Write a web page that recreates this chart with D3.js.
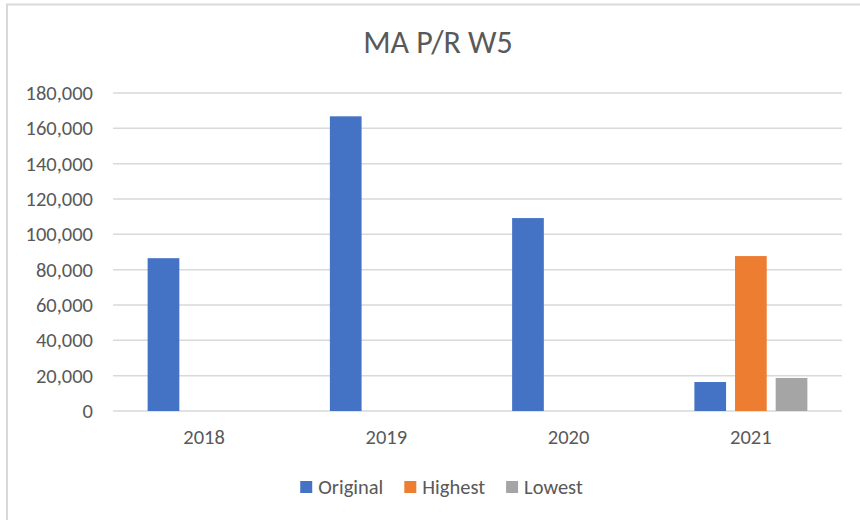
<!DOCTYPE html>
<html>
<head>
<meta charset="utf-8">
<script src="https://cdn.jsdelivr.net/npm/d3@7/dist/d3.min.js"></script>
<style>
  body { margin: 0; background: #fff; }
  svg text { font-family: Calibri, Carlito, "Liberation Sans", Arial, sans-serif; fill: #595959; }
</style>
</head>
<body>
<svg width="860" height="520"></svg>
<script>

var title = "MA P/R W5";
var years = ["2018", "2019", "2020", "2021"];
var seriesNames = ["Original", "Highest", "Lowest"];
var seriesColors = ["#4472c4", "#ed7d31", "#a5a5a5"];
// values per series, one per year (null = no bar)
var original = [86500, 166800, 109200, 16400];
var highest = [null, null, null, 87700];
var lowest = [null, null, null, 18700];
var yTicks = [0, 20000, 40000, 60000, 80000, 100000, 120000, 140000, 160000, 180000];

var svg = d3.select("svg");

// outer chart border (runs off right and bottom edges)
svg.append("rect")
    .attr("x", 7).attr("y", 4.5)
    .attr("width", 900).attr("height", 600)
    .attr("fill", "none")
    .attr("stroke", "#d9d9d9")
    .attr("stroke-width", 2);

var plotLeft = 113, plotRight = 842, plotTop = 93, plotBottom = 411;

var y = d3.scaleLinear().domain([0, 180000]).range([plotBottom, plotTop]);
var x0 = d3.scaleBand().domain(years).range([plotLeft, plotRight])
    .paddingInner(0.38).paddingOuter(0.19);
var x1 = d3.scaleBand().domain(seriesNames).range([0, x0.bandwidth()])
    .paddingInner(0.22);

// title
svg.append("text")
    .attr("x", 438).attr("y", 53)
    .attr("text-anchor", "middle")
    .style("font-size", "32px")
    .text(title);

// gridlines
svg.append("g")
    .selectAll("line")
    .data(yTicks)
    .join("line")
    .attr("x1", plotLeft).attr("x2", plotRight)
    .attr("y1", function(d) { return y(d); })
    .attr("y2", function(d) { return y(d); })
    .attr("stroke", "#d9d9d9")
    .attr("stroke-width", 1.5);

// y axis labels
var yAxis = d3.axisLeft(y).tickValues(yTicks).tickFormat(d3.format(",")).tickSize(0).tickPadding(0);
svg.append("g")
    .attr("transform", "translate(93,0)")
    .call(yAxis)
    .call(function(g) { g.select(".domain").remove(); })
    .selectAll("text")
    .style("font-size", "20.5px")
    .attr("font-family", null)
    .attr("fill", "#595959");

// x axis labels
var xAxis = d3.axisBottom(x0).tickSize(0).tickPadding(0);
svg.append("g")
    .attr("transform", "translate(0,429)")
    .call(xAxis)
    .call(function(g) { g.select(".domain").remove(); })
    .selectAll("text")
    .style("font-size", "20.5px")
    .attr("fill", "#595959");

// bars
var allSeries = [original, highest, lowest];
var rows = [];
years.forEach(function(yr, i) {
  seriesNames.forEach(function(s, j) {
    if (allSeries[j][i] != null) rows.push({ year: yr, series: s, value: allSeries[j][i], color: seriesColors[j] });
  });
});

svg.append("g")
    .selectAll("rect")
    .data(rows)
    .join("rect")
    .attr("x", function(d) { return x0(d.year) + x1(d.series); })
    .attr("width", x1.bandwidth())
    .attr("y", function(d) { return y(d.value); })
    .attr("height", function(d) { return y(0) - y(d.value); })
    .attr("fill", function(d) { return d.color; });

// legend
var legend = svg.append("g");
var items = legend.selectAll("g")
    .data(seriesNames)
    .join("g");
items.append("rect")
    .attr("width", 12).attr("height", 12)
    .attr("y", 481)
    .attr("fill", function(d, i) { return seriesColors[i]; });
items.append("text")
    .attr("x", 18).attr("y", 494)
    .style("font-size", "20.5px")
    .text(function(d) { return d; });

var widths = [];
items.each(function() {
  widths.push(18 + d3.select(this).select("text").node().getComputedTextLength());
});
var gap = 21;
var total = d3.sum(widths) + gap * (widths.length - 1);
var cx = 441.5 - total / 2;
items.attr("transform", function(d, i) {
  var off = cx;
  for (var k = 0; k < i; ++k) off += widths[k] + gap;
  return "translate(" + off + ",0)";
});

</script>
</body>
</html>
